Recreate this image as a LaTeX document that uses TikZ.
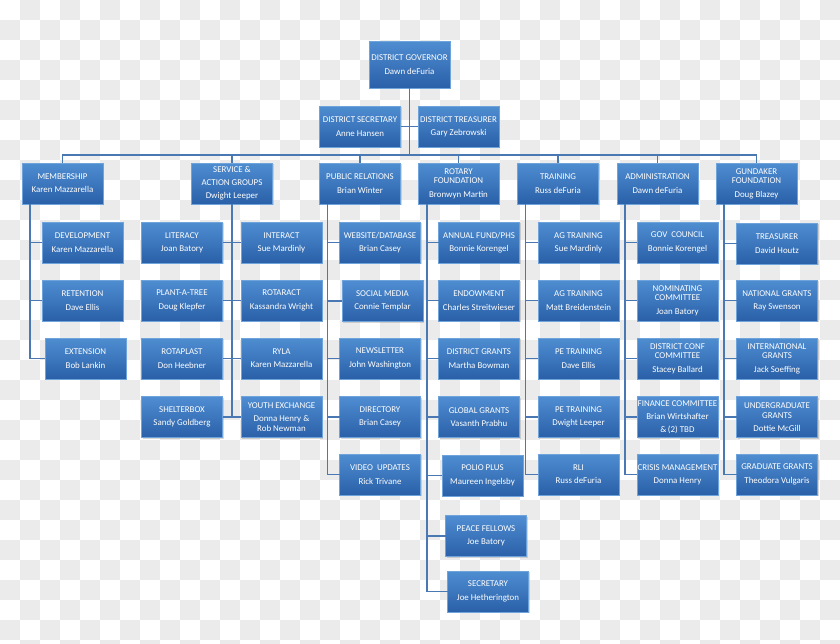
\documentclass[tikz,border=0pt]{standalone}
\usepackage{fontspec}
\setmainfont{Carlito}
\usetikzlibrary{shadows}
\definecolor{chk}{HTML}{EBEBEB}
\definecolor{boxtop}{HTML}{4F8DD1}
\definecolor{boxbot}{HTML}{2A60A8}
\definecolor{boxedge}{HTML}{6FA3DC}
\definecolor{connc}{HTML}{4A78B2}
\tikzset{
 box/.style={rectangle, draw=boxedge, line width=0.6pt, top color=boxtop, bottom color=boxbot,
   minimum width=81pt, minimum height=41pt, inner sep=0pt, outer sep=0pt, text=white, align=center,
   font=\fontsize{8.9}{9.9}\selectfont,
   drop shadow={shadow xshift=1.2pt, shadow yshift=-1.2pt, opacity=0.3}},
 conn/.style={draw=connc, line width=1.2pt},
}
\newcommand{\gp}{\\[3.4pt]}
\begin{document}
\begin{tikzpicture}[x=1pt,y=-1pt]
\useasboundingbox (0,0) rectangle (840,643);
% checkerboard background
\begin{scope}
\clip (0,0) rectangle (840,643);
\fill[white] (0,0) rectangle (840,643);
\foreach \i in {0,...,41}{\foreach \j in {0,...,32}{%
  \ifodd\numexpr\i+\j\relax \fill[chk] (\i*20,\j*20) rectangle ++(20,20);\fi}}
\end{scope}
% top
\node[box, minimum height=47pt] (gov) at (409.5,64.5) {DISTRICT GOVERNOR\gp Dawn deFuria};
\node[box] (sec) at (360,126.5) {DISTRICT SECRETARY\gp Anne Hansen};
\node[box] (tre) at (458.5,126.5) {DISTRICT TREASURER\gp Gary Zebrowski};
% level 2
\node[box, font=\fontsize{8.9}{13}\selectfont] (mem) at (62.5,183.5) {MEMBERSHIP\\Karen Mazzarella};
\node[box, font=\fontsize{8.9}{13}\selectfont] (svc) at (232,183.5) {SERVICE \&\\ACTION GROUPS\\Dwight Leeper};
\node[box] (pr) at (360,183.5) {PUBLIC RELATIONS\gp Brian Winter};
\node[box] (rf) at (458.5,183.5) {ROTARY\\FOUNDATION\gp Bronwyn Martin};
\node[box] (trn) at (558,183.5) {TRAINING\gp Russ deFuria};
\node[box] (adm) at (657.5,183.5) {ADMINISTRATION\gp Dawn deFuria};
\node[box] (gund) at (756.5,183.5) {GUNDAKER\\FOUNDATION\gp Doug Blazey};
% membership
\node[box] (dev) at (82.5,242.5) {DEVELOPMENT\gp Karen Mazzarella};
\node[box] (ret) at (82.5,300.5) {RETENTION\gp Dave Ellis};
\node[box] (ext) at (85.5,358.5) {EXTENSION\gp Bob Lankin};
% service
\node[box] (lit) at (182,242.5) {LITERACY\gp Joan Batory};
\node[box] (pla) at (182,300.5) {PLANT-A-TREE\gp Doug Klepfer};
\node[box] (rpl) at (182,358.5) {ROTAPLAST\gp Don Heebner};
\node[box] (shb) at (182,417) {SHELTERBOX\gp Sandy Goldberg};
\node[box] (int) at (281.5,242.5) {INTERACT\gp Sue Mardinly};
\node[box] (rac) at (281.5,300.5) {ROTARACT\gp Kassandra Wright};
\node[box] (ryl) at (281.5,358.5) {RYLA\gp Karen Mazzarella};
\node[box] (yex) at (281.5,417) {YOUTH EXCHANGE\\[3.2pt]Donna Henry \&\\Rob Newman};
% public relations
\node[box] (web) at (380,242.5) {WEBSITE/DATABASE\gp Brian Casey};
\node[box] (soc) at (382.5,301) {SOCIAL MEDIA\gp Connie Templar};
\node[box] (nws) at (380,358.5) {NEWSLETTER\gp John Washington};
\node[box] (dir) at (380,417) {DIRECTORY\gp Brian Casey};
\node[box] (vid) at (380,474.5) {VIDEO\ \ UPDATES\gp Rick Trivane};
% rotary foundation
\node[box] (ann) at (479,242.5) {ANNUAL FUND/PHS\gp Bonnie Korengel};
\node[box] (end) at (479,300.5) {ENDOWMENT\gp Charles Streitwieser};
\node[box] (dgr) at (479,358.5) {DISTRICT GRANTS\gp Martha Bowman};
\node[box] (ggr) at (479,417) {GLOBAL GRANTS\gp Vasanth Prabhu};
\node[box] (pol) at (482.5,475.5) {POLIO PLUS\gp Maureen Ingelsby};
\node[box] (pea) at (486,536) {PEACE FELLOWS\gp Joe Batory};
\node[box] (rsec) at (488,591.5) {SECRETARY\gp Joe Hetherington};
% training
\node[box] (ag1) at (578.5,242.5) {AG TRAINING\gp Sue Mardinly};
\node[box] (ag2) at (578.5,300.5) {AG TRAINING\gp Matt Breidenstein};
\node[box] (pe1) at (578.5,358.5) {PE TRAINING\gp Dave Ellis};
\node[box] (pe2) at (578.5,417) {PE TRAINING\gp Dwight Leeper};
\node[box] (rli) at (578.5,474.5) {RLI\gp Russ deFuria};
% administration
\node[box] (gco) at (677.5,242.5) {GOV\ \ COUNCIL\gp Bonnie Korengel};
\node[box] (nom) at (677.5,300.5) {NOMINATING\\COMMITTEE\gp Joan Batory};
\node[box] (dco) at (677.5,358.5) {DISTRICT CONF\\COMMITTEE\gp Stacey Ballard};
\node[box, font=\fontsize{8.9}{13}\selectfont] (fin) at (677.5,417) {FINANCE COMMITTEE\\Brian Wirtshafter\\\&\,(2) TBD};
\node[box] (cri) at (677.5,474.5) {CRISIS MANAGEMENT\gp Donna Henry};
% gundaker
\node[box] (gtr) at (777,243.5) {TREASURER\gp David Houtz};
\node[box] (nat) at (777,300.5) {NATIONAL GRANTS\gp Ray Swenson};
\node[box] (itl) at (777,358.5) {INTERNATIONAL\\GRANTS\gp Jack Soeffing};
\node[box] (ugr) at (777,417) {UNDERGRADUATE\\GRANTS\gp Dottie McGill};
\node[box] (ggs) at (777,474.5) {GRADUATE GRANTS\gp Theodora Vulgaris};
% connectors
\coordinate (bus) at (0,155);
\draw[conn] (gov.south) -- (gov.south |- bus);
\draw[conn] (sec.east) -- (tre.west);
\draw[conn] (mem.north) |- (bus -| gund.north) -- (gund.north);
\foreach \n in {svc,pr,rf,trn,adm} \draw[conn] (\n.north) -- (\n.north |- bus);
\coordinate (memT) at ([xshift=8pt]mem.south west);
\foreach \c in {dev,ret,ext} \draw[conn] (memT) |- (\c.west);
\foreach \c in {lit,pla,rpl,shb} \draw[conn] (svc.south) |- (\c.east);
\foreach \c in {int,rac,ryl,yex} \draw[conn] (svc.south) |- (\c.west);
\coordinate (prT) at ([xshift=8pt]pr.south west);
\foreach \c in {web,soc,nws,dir,vid} \draw[conn] (prT) |- (\c.west);
\coordinate (rfT) at ([xshift=9pt]rf.south west);
\foreach \c in {ann,end,dgr,ggr,pol,pea,rsec} \draw[conn] (rfT) |- (\c.west);
\coordinate (trnT) at ([xshift=8pt]trn.south west);
\foreach \c in {ag1,ag2,pe1,pe2,rli} \draw[conn] (trnT) |- (\c.west);
\coordinate (admT) at ([xshift=8pt]adm.south west);
\foreach \c in {gco,nom,dco,fin,cri} \draw[conn] (admT) |- (\c.west);
\coordinate (gunT) at ([xshift=8pt]gund.south west);
\foreach \c in {gtr,nat,itl,ugr,ggs} \draw[conn] (gunT) |- (\c.west);
\end{tikzpicture}
\end{document}
